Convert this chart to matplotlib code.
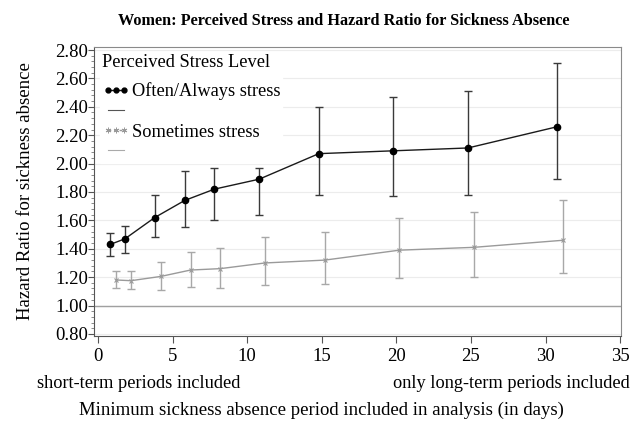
import matplotlib
matplotlib.use("Agg")
import matplotlib.pyplot as plt
from matplotlib.lines import Line2D
from matplotlib.ticker import MultipleLocator
import numpy as np

plt.rcParams['font.family'] = ['Liberation Serif', 'DejaVu Serif']

days = [1, 2, 4, 6, 8, 11, 15, 20, 25, 31]
often_hr = [1.43, 1.47, 1.62, 1.74, 1.82, 1.89, 2.07, 2.09, 2.11, 2.26]
often_lo = [1.35, 1.37, 1.48, 1.55, 1.60, 1.64, 1.78, 1.77, 1.78, 1.89]
often_hi = [1.51, 1.56, 1.78, 1.95, 1.97, 1.97, 2.40, 2.47, 2.51, 2.71]
some_hr = [1.18, 1.175, 1.205, 1.25, 1.26, 1.30, 1.32, 1.39, 1.41, 1.46]
some_lo = [1.125, 1.115, 1.11, 1.13, 1.12, 1.145, 1.15, 1.195, 1.20, 1.23]
some_hi = [1.245, 1.245, 1.305, 1.375, 1.405, 1.48, 1.52, 1.62, 1.66, 1.74]
yticks = [0.80, 1.00, 1.20, 1.40, 1.60, 1.80, 2.00, 2.20, 2.40, 2.60, 2.80]
xticks = [0, 5, 10, 15, 20, 25, 30, 35]

fig = plt.figure(figsize=(6.42, 4.29), dpi=100)
ax = fig.add_axes([0.147, 0.217, 0.820, 0.674])

xd = np.array(days, dtype=float)
black = '#1a1a1a'
grey = '#9a9a9a'

for yv in yticks:
    ax.axhline(yv, color='#ececec', lw=0.8, zorder=0)
ax.axhline(1.0, color='#a0a0a0', lw=1.0, zorder=1)

oh = np.array(often_hr); sh = np.array(some_hr)
ax.errorbar(xd - 0.2, oh, yerr=[oh - np.array(often_lo), np.array(often_hi) - oh],
            fmt='none', ecolor='#3a3a3a', elinewidth=1.0, capsize=3, capthick=1.0, zorder=3)
ax.plot(xd - 0.2, oh, color=black, lw=1.0, marker='o', ms=4.5, mfc='black', mec='black', zorder=4)
ax.errorbar(xd + 0.2, sh, yerr=[sh - np.array(some_lo), np.array(some_hi) - sh],
            fmt='none', ecolor='#a8a8a8', elinewidth=1.0, capsize=3, capthick=1.0, zorder=3)
ax.plot(xd + 0.2, sh, color=grey, lw=1.0, marker='x', ms=3, mew=0.8, zorder=4)

ax.set_xlim(-0.25, 35.05)
ax.set_ylim(0.786, 2.823)
ax.set_xticks(xticks)
ax.set_yticks(yticks)
ax.set_yticklabels([f'{v:.2f}' for v in yticks])
ax.yaxis.set_minor_locator(MultipleLocator(0.04))
ax.tick_params(axis='x', which='major', direction='out', length=5, width=0.8,
               color='#555555', labelsize=13.5, pad=4)
ax.tick_params(axis='y', which='major', direction='out', length=4, width=0.8,
               color='#555555', labelsize=13.5, pad=0.5)
ax.tick_params(axis='y', which='minor', direction='out', length=2.5, width=0.6, color='#777777')
for s in ['left', 'bottom']:
    ax.spines[s].set_color('#555555')
for s in ['top', 'right']:
    ax.spines[s].set_color('#8a8a8a')

handles = [
    Line2D([], [], color=black, lw=1.0, marker='o', ms=3.5, mfc='black', mec='black'),
    Line2D([], [], color='#555555', lw=0.8),
    Line2D([], [], color=grey, lw=1.0, ls=(0, (2, 2)), marker=(6, 2, 0), ms=4, mew=0.7),
    Line2D([], [], color='#aaaaaa', lw=0.8),
]
labels = ['Often/Always stress', ' ', 'Sometimes stress', ' ']
leg = ax.legend(handles, labels, title='Perceived Stress Level', loc='upper left',
                frameon=True, fancybox=False, edgecolor='white', framealpha=1.0,
                fontsize=13.2, title_fontsize=13.2, numpoints=3, handlelength=1.5,
                handletextpad=0.12, labelspacing=0.17, borderaxespad=0.3,
                borderpad=0.12, alignment='left')
leg._legend_box.sep = 8.0
leg.set_zorder(5)

fig.text(0.535, 0.952, 'Women: Perceived Stress and Hazard Ratio for Sickness Absence',
         ha='center', va='center', fontsize=11.7, fontweight='bold')
fig.text(0.040, 0.555, 'Hazard Ratio for sickness absence', rotation=90,
         ha='center', va='center', fontsize=13.5)
fig.text(0.058, 0.107, 'short-term periods included', ha='left', va='center', fontsize=13.2)
fig.text(0.981, 0.107, 'only long-term periods included', ha='right', va='center', fontsize=13.2)
fig.text(0.5, 0.044, 'Minimum sickness absence period included in analysis (in days)',
         ha='center', va='center', fontsize=13.5)

fig.savefig('out.png', dpi=100)
